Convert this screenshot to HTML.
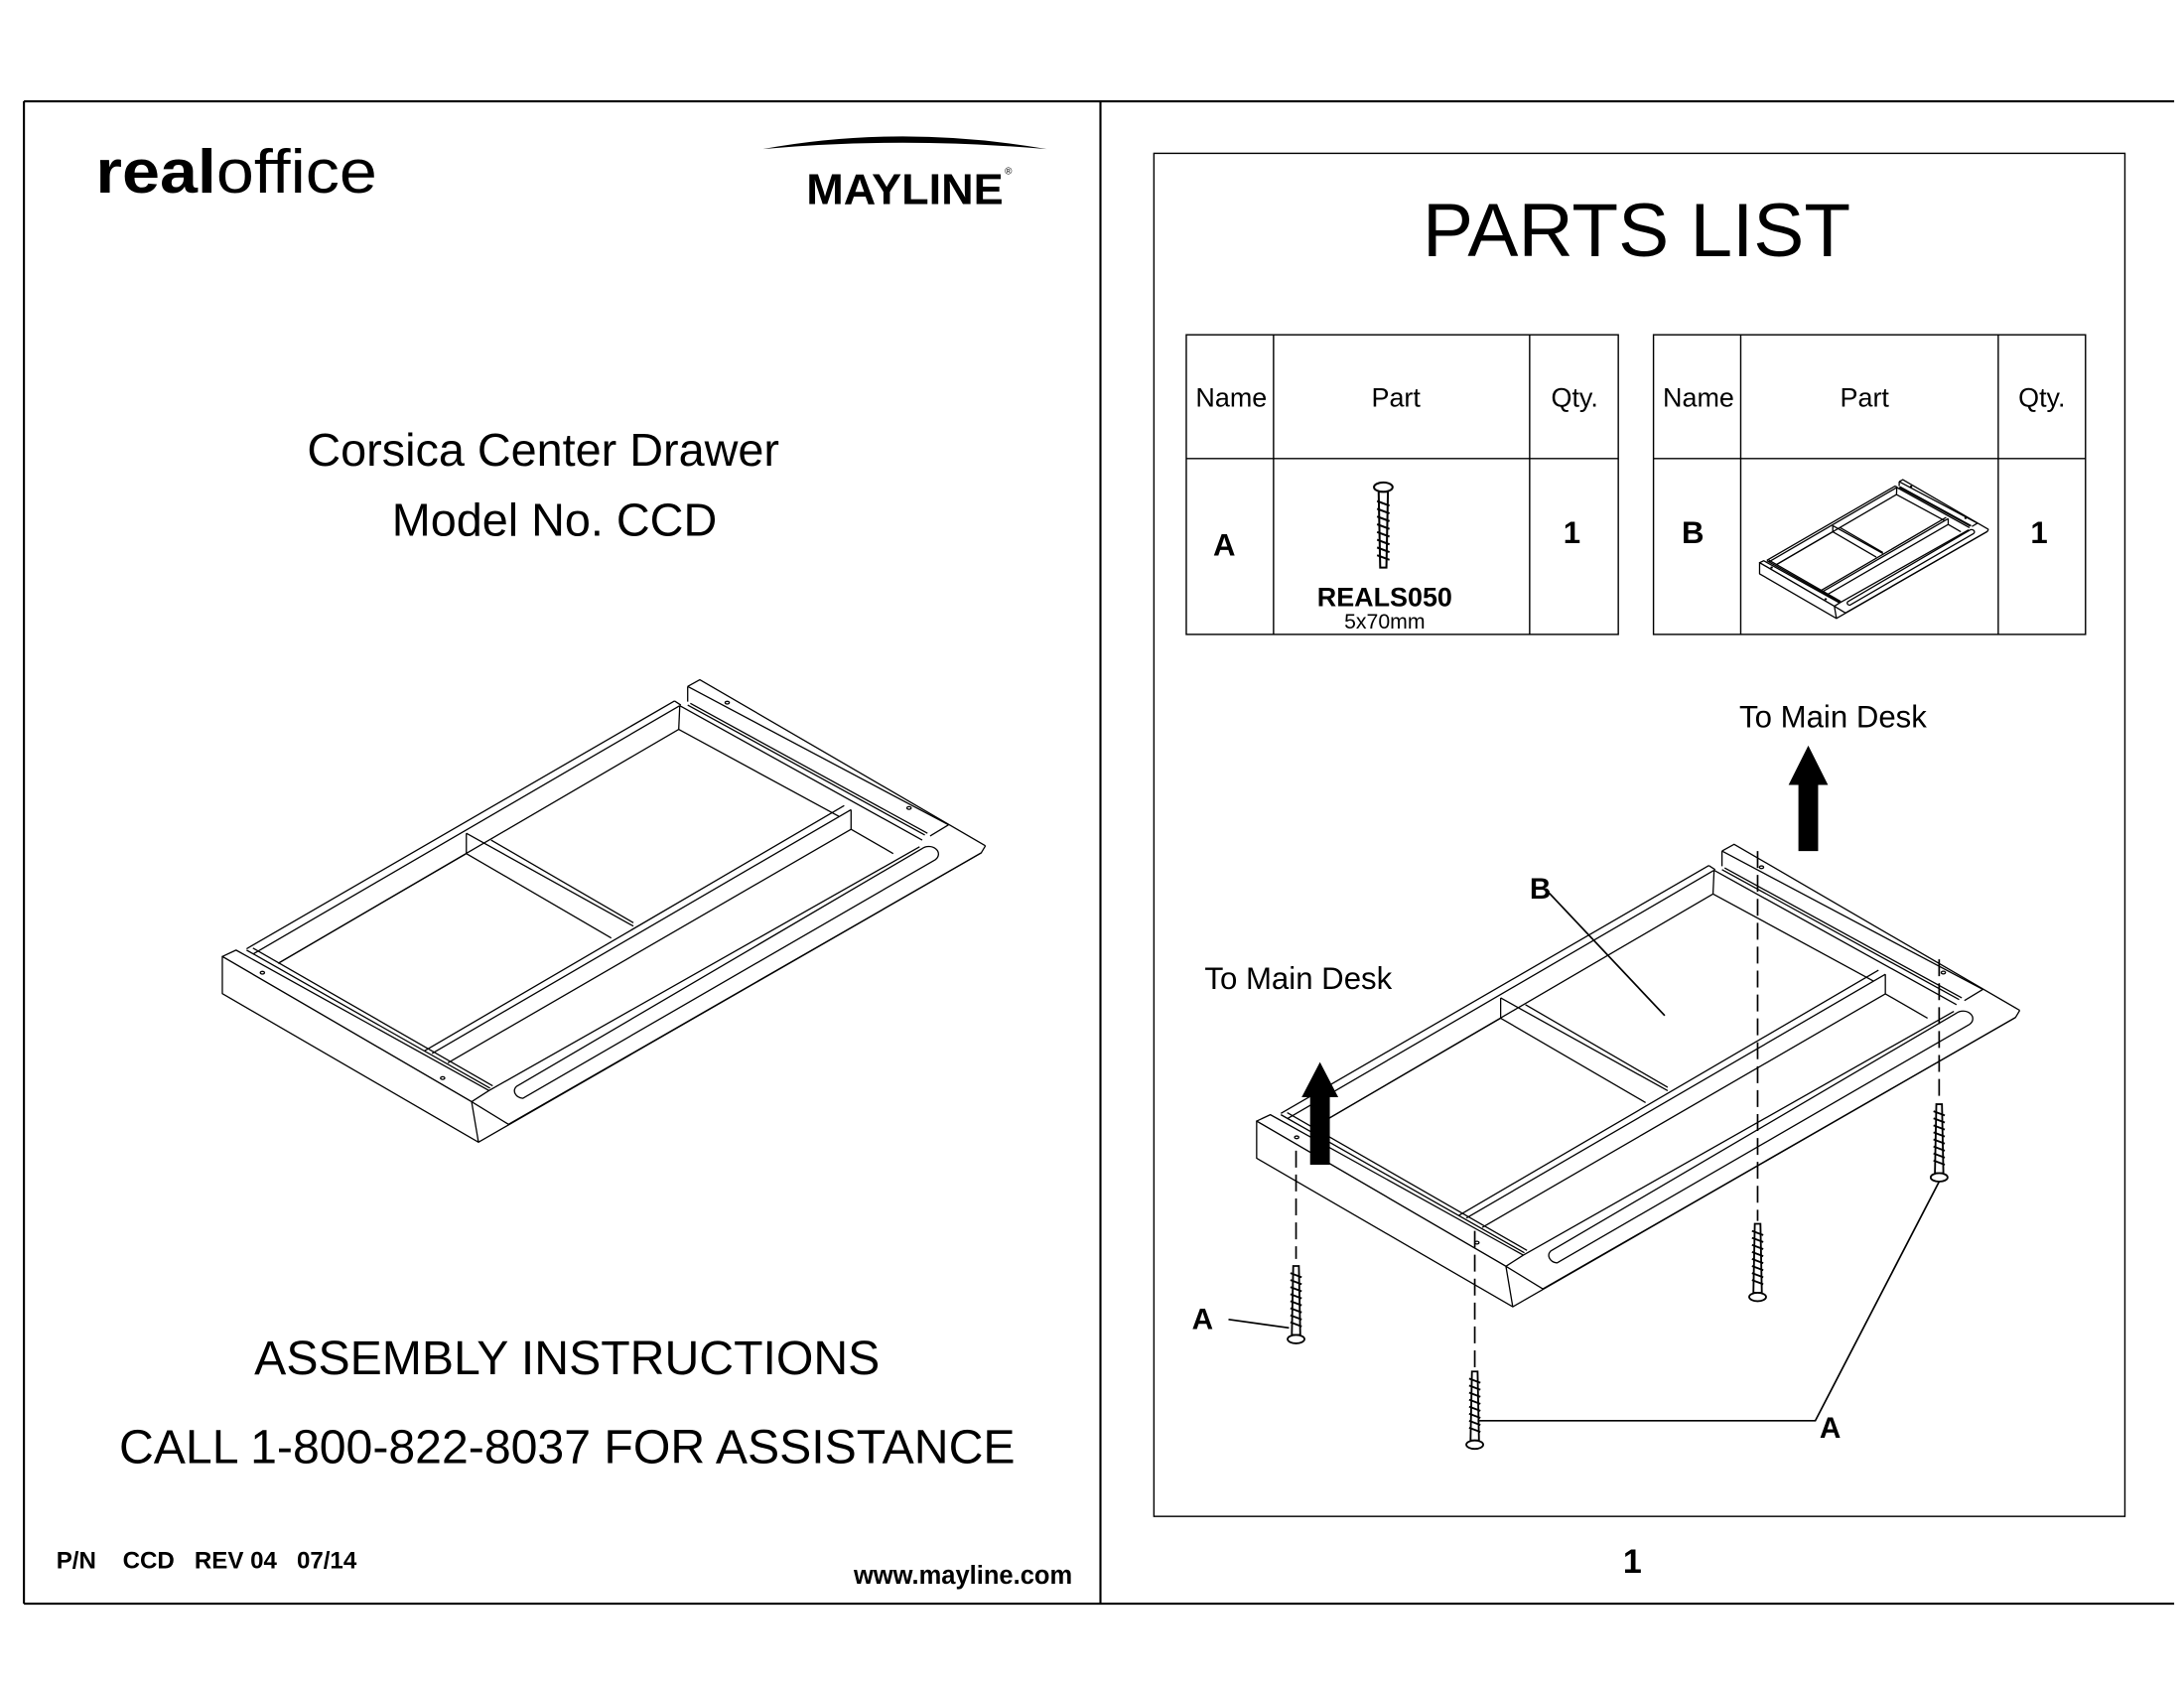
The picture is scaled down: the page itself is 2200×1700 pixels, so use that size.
<!DOCTYPE html>
<html><head><meta charset="utf-8"><style>
html,body{margin:0;padding:0;background:#fff}
svg{display:block}
text{font-family:"Liberation Sans",sans-serif;fill:#000}
#drawer *{vector-effect:non-scaling-stroke}
</style></head><body>
<svg width="2200" height="1700" viewBox="0 0 1552 1200" preserveAspectRatio="none" xmlns="http://www.w3.org/2000/svg">
<defs>
<g id="drawer" fill="none" stroke="#000" stroke-width="1.3" stroke-linejoin="round">
  <polygon points="42,885 68,866 548,1282 515,1315" fill="#fff"/>
  <polygon points="42,885 515,1315 528,1435 42,995" fill="#fff"/>
  <line x1="88" y1="866" x2="550" y2="1275"/>
  <line x1="100" y1="860" x2="555" y2="1268"/>
  <line x1="88" y1="862" x2="900" y2="128"/>
  <line x1="100" y1="878" x2="910" y2="142"/>
  <line x1="148" y1="905" x2="908" y2="212"/>
  <line x1="900" y1="128" x2="912" y2="140"/>
  <line x1="910" y1="142" x2="908" y2="212"/>
  <line x1="908" y1="212" x2="1212" y2="470"/>
  <line x1="910" y1="142" x2="1370" y2="540"/>
  <line x1="925" y1="140" x2="1375" y2="525"/>
  <line x1="930" y1="135" x2="1380" y2="520"/>
  <polyline points="925,85 948,65 1490,557"/>
  <line x1="925" y1="85" x2="925" y2="130"/>
  <line x1="925" y1="85" x2="1420" y2="495"/>
  <line x1="1420" y1="495" x2="1385" y2="528"/>
  <polyline points="1490,557 1482,578 585,1382"/>
  <line x1="528" y1="1435" x2="1482" y2="578"/>
  <line x1="515" y1="1315" x2="585" y2="1382"/>
  <line x1="505" y1="520" x2="822" y2="795"/>
  <line x1="505" y1="580" x2="780" y2="830"/>
  <line x1="552" y1="540" x2="822" y2="785"/>
  <line x1="505" y1="520" x2="505" y2="580"/>
  <line x1="505" y1="580" x2="148" y2="905"/>
  <line x1="425" y1="1165" x2="1222" y2="438"/>
  <line x1="440" y1="1172" x2="1235" y2="450"/>
  <line x1="470" y1="1200" x2="1235" y2="508"/>
  <line x1="1235" y1="450" x2="1235" y2="508"/>
  <line x1="1235" y1="508" x2="1315" y2="580"/>
  <line x1="548" y1="1282" x2="1365" y2="560"/>
  <path d="M612,1305 L1395,598 A18,22 0 0 0 1370,565 L600,1270 A18,22 0 0 0 612,1305 Z"/>
  <circle cx="118" cy="933" r="4"/><circle cx="460" cy="1245" r="4"/>
  <circle cx="1000" cy="133" r="4"/><circle cx="1345" cy="445" r="4"/>
</g>
<g id="screw" fill="#fff" stroke="#000" stroke-width="1.3">
  <path d="M-2,-55 L2,-55 L3,-6 L-3,-6 Z"/>
  <path d="M-4,-50 L4,-47 M-4,-45 L4,-42 M-4,-40 L4,-37 M-4,-35 L4,-32 M-4,-30 L4,-27 M-4,-25 L4,-22 M-4,-20 L4,-17 M-4,-15 L4,-12"/>
  <ellipse cx="0" cy="-3" rx="6" ry="3"/>
</g>
</defs>

<g stroke="#000" stroke-width="1.5" fill="none">
<line x1="17" y1="72" x2="1545" y2="72"/>
<line x1="17" y1="1140" x2="1545" y2="1140"/>
<line x1="17" y1="72" x2="17" y2="1140"/>
<line x1="782" y1="72" x2="782" y2="1140"/>
<rect x="820" y="109" width="690" height="969" stroke-width="1"/>
</g>

<text x="68" y="137" font-size="44" textLength="200" lengthAdjust="spacingAndGlyphs"><tspan font-weight="bold">real</tspan>office</text>
<path d="M542,106 Q640,88 744,106 Q640,97 542,106 Z" fill="#000"/>
<text x="573" y="145" font-size="31" font-weight="bold" textLength="140" lengthAdjust="spacingAndGlyphs">MAYLINE</text>
<text x="714" y="124" font-size="7">®</text>

<text x="386" y="331" font-size="33" text-anchor="middle">Corsica Center Drawer</text>
<text x="394" y="381" font-size="33" text-anchor="middle">Model No. CCD</text>

<g transform="translate(142.27,467.6) scale(0.3745,0.24)"><use href="#drawer"/></g>

<text x="403" y="977" font-size="34" text-anchor="middle">ASSEMBLY INSTRUCTIONS</text>
<text x="403" y="1040" font-size="34" text-anchor="middle">CALL 1-800-822-8037 FOR ASSISTANCE</text>
<text x="40" y="1115" font-size="17" font-weight="bold" xml:space="preserve">P/N    CCD   REV 04   07/14</text>
<text x="762" y="1126" font-size="18" font-weight="bold" text-anchor="end">www.mayline.com</text>

<text x="1163" y="182" font-size="54" text-anchor="middle">PARTS LIST</text>
<g stroke="#000" stroke-width="1" fill="none">
<rect x="843" y="238" width="307" height="213"/>
<line x1="905" y1="238" x2="905" y2="451"/><line x1="1087" y1="238" x2="1087" y2="451"/>
<line x1="843" y1="326" x2="1150" y2="326"/>
<rect x="1175" y="238" width="307" height="213"/>
<line x1="1237" y1="238" x2="1237" y2="451"/><line x1="1420" y1="238" x2="1420" y2="451"/>
<line x1="1175" y1="326" x2="1482" y2="326"/>
</g>
<g font-size="19" text-anchor="middle">
<text x="875" y="289">Name</text><text x="992" y="289">Part</text><text x="1119" y="289">Qty.</text>
<text x="1207" y="289">Name</text><text x="1325" y="289">Part</text><text x="1451" y="289">Qty.</text>
</g>
<g font-weight="bold" font-size="22" text-anchor="middle">
<text x="870" y="395">A</text><text x="1117" y="386">1</text>
<text x="1203" y="386">B</text><text x="1449" y="386">1</text>
</g>
<text x="984" y="431" font-size="19" font-weight="bold" text-anchor="middle">REALS050</text>
<text x="984" y="447" font-size="15" text-anchor="middle">5x70mm</text>
<g transform="translate(983,343) rotate(180) scale(1.1)"><use href="#screw"/></g>
<g transform="translate(1203,196) scale(0.3)"><g transform="translate(142.27,467.6) scale(0.3745,0.24)"><use href="#drawer"/></g></g>

<g transform="translate(735,117)"><g transform="translate(142.27,467.6) scale(0.3745,0.24)"><use href="#drawer"/></g></g>
<g stroke="#000" stroke-width="1.2" stroke-dasharray="12,5" fill="none">
<line x1="921" y1="818" x2="921" y2="895"/>
<line x1="1048" y1="875" x2="1048" y2="975"/>
<line x1="1249" y1="605" x2="1249" y2="868"/>
<line x1="1378" y1="682" x2="1378" y2="783"/>
</g>
<g transform="translate(921,955)"><use href="#screw"/></g>
<g transform="translate(1048,1030)"><use href="#screw"/></g>
<g transform="translate(1249,925)"><use href="#screw"/></g>
<g transform="translate(1378,840)"><use href="#screw"/></g>
<path d="M931,828 L931,780 L925,780 L938,755 L951,780 L945,780 L945,828 Z" fill="#000"/>
<path d="M1278,605 L1278,558 L1271,558 L1285,530 L1299,558 L1292,558 L1292,605 Z" fill="#000"/>
<text x="1236" y="517" font-size="22">To Main Desk</text>
<text x="856" y="703" font-size="22">To Main Desk</text>
<g font-weight="bold" font-size="21">
<text x="1087" y="639">B</text>
<text x="847" y="945">A</text>
<text x="1293" y="1022">A</text>
</g>
<g stroke="#000" stroke-width="1.2" fill="none">
<line x1="1101" y1="635" x2="1183" y2="722"/>
<line x1="873" y1="938" x2="916" y2="944"/>
<polyline points="1050,1010 1290,1010 1378,840"/>
</g>
<text x="1160" y="1118" font-size="24" font-weight="bold" text-anchor="middle">1</text>
</svg>
</body></html>
